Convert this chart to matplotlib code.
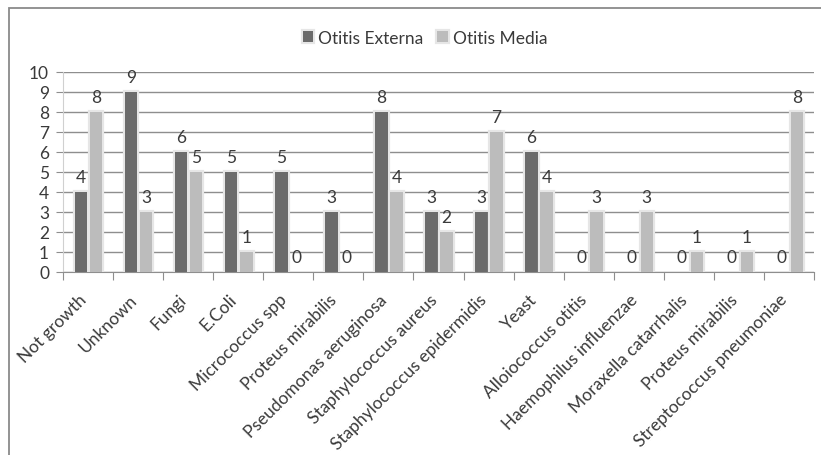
import matplotlib
matplotlib.use("Agg")
import matplotlib.pyplot as plt
import matplotlib.patheffects as pe
import matplotlib.transforms as mtransforms
from matplotlib.patches import Rectangle
import numpy as np

categories = ["Not growth", "Unknown", "Fungi", "E.Coli", "Micrococcus spp",
              "Proteus mirabilis", "Pseudomonas aeruginosa", "Staphylococcus aureus",
              "Staphylococcus epidermidis", "Yeast", "Alloiococcus otitis",
              "Haemophilus influenzae", "Moraxella catarrhalis", "Proteus mirabilis",
              "Streptococcus pneumoniae"]
otitis_externa = [4, 9, 6, 5, 5, 3, 8, 3, 3, 6, 0, 0, 0, 0, 0]
otitis_media = [8, 3, 5, 1, 0, 0, 4, 2, 7, 4, 3, 3, 1, 1, 8]
series_names = ["Otitis Externa", "Otitis Media"]
y_ticks = list(range(0, 11))

plt.rcParams['font.family'] = ['Lato', 'DejaVu Sans']
FS = 12.5
TXT = '#3a3a3a'
W, H = 821, 456
fig = plt.figure(figsize=(W / 100, H / 100), dpi=100)
fig.patch.set_facecolor('white')

# outer chart border
fig.patches.append(Rectangle((9 / W, -0.1), 1.2, 1.1 - 9 / H, transform=fig.transFigure,
                             fill=False, edgecolor='#8a8a8a', linewidth=1.3))

ax = fig.add_axes([63 / W, (H - 273) / H, (814 - 63) / W, 200 / H])
x = np.arange(len(categories))
dark = '#6b6b6b'
light = '#bcbcbc'
w = 0.25
glow = [pe.withStroke(linewidth=3, foreground='#e6e6e6')]
b1 = ax.bar(x - 0.14, otitis_externa, width=w, color=dark, label=series_names[0], zorder=3)
b2 = ax.bar(x + 0.16, otitis_media, width=w, color=light, label=series_names[1], zorder=3)
for b in list(b1) + list(b2):
    if b.get_height() > 0:
        b.set_path_effects(glow)

for bars, vals in ((b1, otitis_externa), (b2, otitis_media)):
    for bar, v in zip(bars, vals):
        ax.annotate(str(v), (bar.get_x() + bar.get_width() / 2, v),
                    xytext=(0, 5), textcoords='offset points', ha='center', va='bottom',
                    fontsize=FS, color=TXT, zorder=5)

ax.set_xlim(-0.5, len(categories) - 0.5)
ax.set_ylim(0, 10)
ax.set_yticks(y_ticks)
ax.yaxis.grid(True, color='#8e8e8e', linewidth=1.0, zorder=0)
ax.set_axisbelow(True)
ax.tick_params(axis='y', length=5, color='#8e8e8e', labelsize=FS, labelcolor=TXT, pad=5)

ax.set_xticks(np.arange(len(categories) + 1) - 0.5)
ax.set_xticklabels([])
ax.tick_params(axis='x', length=6, color='#8e8e8e')
ax.set_xticks(x, minor=True)
ax.set_xticklabels(categories, minor=True, rotation=45, ha='right', va='center',
                   rotation_mode='anchor', fontsize=FS, color=TXT)
ax.tick_params(axis='x', which='minor', length=0, pad=12)
offset = mtransforms.ScaledTranslation(-4 / 100, -8 / 100, fig.dpi_scale_trans)
for lab in ax.get_xticklabels(minor=True):
    lab.set_transform(lab.get_transform() + offset)

for s in ('top', 'right'):
    ax.spines[s].set_visible(False)
ax.spines['left'].set_color('#d0d0d0')
ax.spines['bottom'].set_color('#8e8e8e')

leg = fig.legend(handles=[b1, b2], labels=series_names, loc='center', bbox_to_anchor=(425 / W, 1 - 39 / H),
                 ncol=2, frameon=False, handlelength=0.6, handleheight=0.6, handletextpad=0.3,
                 columnspacing=0.8, fontsize=FS, labelcolor=TXT)

fig.savefig('out.png', dpi=100, facecolor='white')
